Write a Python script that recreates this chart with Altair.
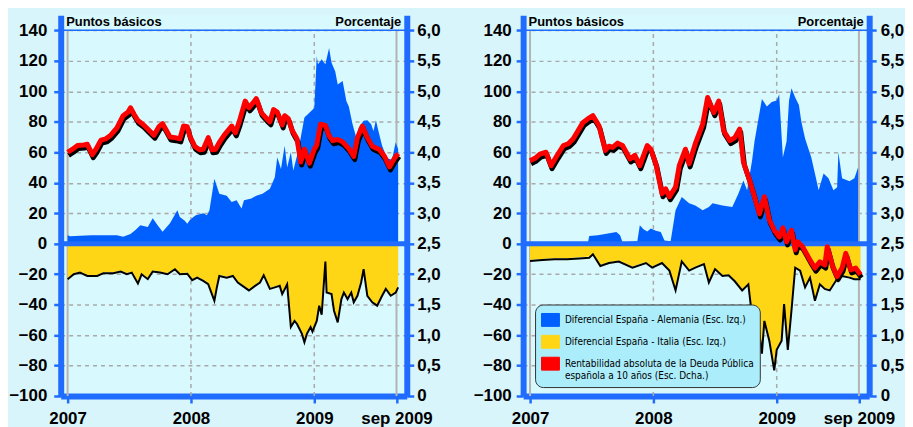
import altair as alt
import pandas as pd

# ---------------- data (decimal year, value) ----------------
SERIES = [
    "Diferencial España - Alemania (Esc. Izq.)",
    "Diferencial España - Italia (Esc. Izq.)",
    "Rentabilidad absoluta de la Deuda Pública española a 10 años (Esc. Dcha.)",
]

# Left panel
L_BLUE = [(2007.00, 5.6), (2007.02, 4.9), (2007.19, 5.6), (2007.40, 5.6), (2007.45, 4.6), (2007.51, 6.3),
          (2007.55, 9), (2007.59, 12), (2007.65, 11), (2007.69, 16.7), (2007.73, 12), (2007.77, 7.8),
          (2007.83, 13.4), (2007.89, 21.9), (2007.91, 17.5), (2007.95, 15), (2007.97, 13), (2007.99, 15.4),
          (2008.02, 17.5), (2008.04, 18.7), (2008.10, 20), (2008.13, 18.7), (2008.15, 21.9), (2008.19, 42.6),
          (2008.23, 32.8), (2008.29, 31.5), (2008.33, 27.3), (2008.37, 28.5), (2008.41, 23), (2008.43, 28.5),
          (2008.49, 29.6), (2008.53, 31.5), (2008.58, 32.8), (2008.64, 36), (2008.68, 43.6), (2008.70, 56.7),
          (2008.73, 49), (2008.76, 64.3), (2008.78, 50), (2008.81, 60), (2008.83, 48), (2008.87, 61),
          (2008.90, 74), (2008.92, 82.8), (2008.96, 86), (2009.00, 89), (2009.02, 123), (2009.03, 117.8),
          (2009.06, 121), (2009.09, 117.8), (2009.12, 128.4), (2009.14, 118.7), (2009.17, 113), (2009.19, 104.5),
          (2009.23, 106.7), (2009.26, 93.7), (2009.28, 90), (2009.31, 78.6), (2009.34, 69.7), (2009.36, 76),
          (2009.40, 80.6), (2009.43, 81), (2009.46, 78.6), (2009.48, 74), (2009.50, 81), (2009.52, 74),
          (2009.55, 64.3), (2009.59, 56), (2009.63, 55), (2009.66, 66.5), (2009.68, 62)]

L_YELLOW = [(2007.00, -22.6), (2007.05, -19.4), (2007.10, -18.3), (2007.16, -20.5), (2007.24, -20.5),
            (2007.29, -18.7), (2007.37, -18.7), (2007.43, -17.6), (2007.48, -19.4), (2007.52, -18.3),
            (2007.57, -25.5), (2007.60, -19.4), (2007.65, -22.6), (2007.69, -17.6), (2007.75, -18.3),
            (2007.81, -19.4), (2007.87, -16.1), (2007.91, -19.4), (2007.97, -19), (2008.01, -23.3),
            (2008.05, -21.6), (2008.10, -23.7), (2008.14, -25.9), (2008.17, -32.4), (2008.19, -36.8),
            (2008.21, -28), (2008.23, -20.5), (2008.29, -21.6), (2008.34, -20.5), (2008.38, -24.8),
            (2008.47, -30), (2008.52, -27), (2008.56, -24.8), (2008.59, -20), (2008.64, -29), (2008.68, -28),
            (2008.72, -27), (2008.74, -32.4), (2008.78, -26), (2008.81, -54), (2008.84, -50), (2008.86, -52),
            (2008.90, -58.5), (2008.92, -64), (2008.94, -58.5), (2008.97, -54), (2008.985, -57), (2009.02, -50),
            (2009.04, -40), (2009.06, -46), (2009.09, -11), (2009.10, -31.4), (2009.14, -32.4), (2009.16, -43.3),
            (2009.19, -51), (2009.22, -35.7), (2009.24, -31.4), (2009.27, -35.7), (2009.30, -31.4),
            (2009.32, -37.8), (2009.35, -33.5), (2009.38, -24.8), (2009.40, -16), (2009.43, -33.5),
            (2009.47, -37.8), (2009.51, -40), (2009.55, -33.5), (2009.58, -29), (2009.62, -33.5),
            (2009.66, -31.4), (2009.68, -28)]

L_RED = [(2007.00, 4.00), (2007.04, 4.05), (2007.08, 4.11), (2007.13, 4.12), (2007.16, 4.13), (2007.20, 3.96),
         (2007.23, 4.05), (2007.27, 4.20), (2007.31, 4.22), (2007.35, 4.28), (2007.40, 4.40), (2007.45, 4.60),
         (2007.49, 4.66), (2007.51, 4.73), (2007.54, 4.62), (2007.57, 4.52), (2007.61, 4.46), (2007.65, 4.38),
         (2007.70, 4.28), (2007.74, 4.42), (2007.77, 4.47), (2007.80, 4.36), (2007.83, 4.25), (2007.87, 4.24),
         (2007.91, 4.22), (2007.94, 4.43), (2007.97, 4.42), (2007.99, 4.27), (2008.03, 4.10), (2008.07, 4.04),
         (2008.10, 4.05), (2008.14, 4.24), (2008.17, 4.04), (2008.20, 4.05), (2008.23, 4.16), (2008.27, 4.28),
         (2008.31, 4.38), (2008.33, 4.43), (2008.36, 4.32), (2008.39, 4.49), (2008.44, 4.84), (2008.47, 4.73),
         (2008.50, 4.80), (2008.53, 4.88), (2008.57, 4.65), (2008.61, 4.56), (2008.64, 4.50), (2008.67, 4.70),
         (2008.70, 4.66), (2008.74, 4.45), (2008.76, 4.60), (2008.79, 4.55), (2008.82, 4.36), (2008.86, 4.22),
         (2008.89, 3.84), (2008.92, 4.05), (2008.96, 3.82), (2009.00, 4.05), (2009.02, 4.12), (2009.05, 4.46),
         (2009.09, 4.44), (2009.12, 4.27), (2009.15, 4.19), (2009.19, 4.21), (2009.23, 4.17), (2009.28, 4.06),
         (2009.32, 3.93), (2009.35, 4.24), (2009.39, 4.43), (2009.43, 4.24), (2009.47, 4.10), (2009.53, 4.04),
         (2009.57, 3.93), (2009.61, 3.76), (2009.65, 3.90), (2009.68, 3.98)]

# Right panel
R_BLUE = [(2007.00, 1), (2007.47, 1), (2007.48, 5), (2007.55, 5.5), (2007.62, 6.5), (2007.70, 7.6),
          (2007.73, 5.5), (2007.75, 1), (2007.87, 1.5), (2007.89, 12), (2007.92, 9.5), (2007.95, 8),
          (2007.98, 10), (2008.02, 8.5), (2008.06, 7.6), (2008.09, 2), (2008.14, 1.5), (2008.18, 22),
          (2008.23, 30.6), (2008.29, 26.5), (2008.34, 25), (2008.40, 22), (2008.45, 24), (2008.48, 26.5),
          (2008.56, 25), (2008.64, 24), (2008.69, 33), (2008.73, 41.5), (2008.76, 35), (2008.80, 54.5),
          (2008.82, 67), (2008.88, 95), (2008.92, 90), (2008.96, 93), (2009.00, 94), (2009.02, 98),
          (2009.05, 56.7), (2009.08, 67), (2009.10, 94), (2009.12, 102), (2009.15, 96), (2009.18, 91),
          (2009.20, 80), (2009.23, 69), (2009.28, 56.7), (2009.31, 46), (2009.34, 35), (2009.38, 46),
          (2009.42, 43), (2009.46, 35), (2009.49, 37), (2009.50, 60), (2009.53, 43), (2009.59, 41),
          (2009.63, 43), (2009.66, 50)]

R_YELLOW = [(2007.00, -10.7), (2007.10, -10), (2007.20, -9.5), (2007.30, -9.5), (2007.40, -9), (2007.48, -8.5),
            (2007.51, -6.3), (2007.57, -14), (2007.64, -12), (2007.72, -11), (2007.83, -15), (2007.94, -12),
            (2007.99, -15), (2008.07, -12), (2008.13, -17), (2008.18, -30), (2008.23, -11), (2008.29, -17),
            (2008.34, -15), (2008.41, -12.7), (2008.45, -24.8), (2008.50, -16), (2008.56, -20.5), (2008.61, -20),
            (2008.66, -24), (2008.72, -30), (2008.77, -26), (2008.79, -40), (2008.81, -60), (2008.84, -45),
            (2008.88, -71.5), (2008.90, -50), (2008.94, -63), (2008.98, -82.5), (2009.00, -69), (2009.04, -63),
            (2009.06, -39), (2009.09, -69), (2009.12, -43), (2009.15, -15), (2009.19, -17), (2009.23, -28),
            (2009.27, -21.6), (2009.31, -36.8), (2009.35, -26), (2009.39, -29), (2009.43, -30), (2009.48, -23.7),
            (2009.53, -20.5), (2009.59, -21.6), (2009.63, -22.6), (2009.68, -22.6)]

R_RED = [(2007.00, 3.86), (2007.04, 3.90), (2007.08, 3.97), (2007.13, 4.00), (2007.17, 3.78), (2007.22, 3.95),
         (2007.27, 4.11), (2007.31, 4.14), (2007.35, 4.22), (2007.43, 4.49), (2007.47, 4.55), (2007.51, 4.60),
         (2007.54, 4.50), (2007.56, 4.43), (2007.61, 4.03), (2007.64, 4.10), (2007.67, 4.08), (2007.71, 4.15),
         (2007.75, 4.11), (2007.81, 3.89), (2007.85, 3.95), (2007.89, 3.78), (2007.95, 4.11), (2007.98, 4.05),
         (2008.02, 3.81), (2008.07, 3.32), (2008.10, 3.40), (2008.13, 3.27), (2008.18, 3.43), (2008.21, 3.78),
         (2008.26, 4.05), (2008.29, 3.81), (2008.34, 4.14), (2008.40, 4.46), (2008.44, 4.90), (2008.49, 4.65),
         (2008.53, 4.84), (2008.57, 4.35), (2008.62, 4.19), (2008.66, 4.24), (2008.70, 4.38), (2008.73, 3.84),
         (2008.78, 3.54), (2008.82, 3.27), (2008.86, 2.99), (2008.90, 3.27), (2008.94, 2.89), (2008.98, 2.72),
         (2009.02, 2.61), (2009.05, 2.76), (2009.08, 2.53), (2009.12, 2.72), (2009.15, 2.40), (2009.17, 2.53),
         (2009.21, 2.45), (2009.27, 2.23), (2009.31, 2.10), (2009.35, 2.20), (2009.39, 2.15), (2009.41, 2.45),
         (2009.45, 2.15), (2009.49, 1.96), (2009.53, 2.10), (2009.56, 2.34), (2009.60, 2.07), (2009.64, 2.10),
         (2009.68, 1.99)]

LEFT_TICKS = [-100, -80, -60, -40, -20, 0, 20, 40, 60, 80, 100, 120, 140]
RIGHT_TICKS = [0, 0.5, 1.0, 1.5, 2.0, 2.5, 3.0, 3.5, 4.0, 4.5, 5.0, 5.5, 6.0]
X_TICKS = [2007, 2008, 2009, 2009 + 8 / 12]
DASHED_YEARS = [2008, 2009]
EDGE_YEARS = [2007, 2009 + 8 / 12]

BLUE = "#0060ff"
YELLOW = "#ffd615"
RED = "#ff0000"
BAR = "#1f6cff"
BG = "#d9f5fc"
VIEW_BG = "#d8f9fd"
GRID = "#a9a9a9"

FONT = "Liberation Sans"
LEG_FONT = "DejaVu Sans Condensed, Liberation Sans"


def df_of(pairs, col, serie=None):
    d = pd.DataFrame(pairs, columns=["t", col])
    if serie is not None:
        d["serie"] = serie
    return d


def panel(blue, yellow, red, left_pad, right_pad, legend, left_ext, right_ext):
    xs = alt.Scale(domain=[2006.944, 2009.75], nice=False, zero=False)
    xax = alt.Axis(values=X_TICKS, grid=False, title=None, labelFlush=False, labelOverlap=False,
                   labelPadding=8,
                   labelExpr="datum.value > 2009.5 ? 'sep 2009' : format(datum.value, 'd')")
    ysL = alt.Scale(domain=[-100, 150], nice=False, zero=False)
    yaxL = alt.Axis(values=LEFT_TICKS, grid=True, gridDash=[4, 4], gridColor=GRID, gridWidth=1.5,
                    orient="left", title="Puntos básicos", titleAngle=0, titleX=5, titleY=10,
                    titleAlign="left", titleBaseline="alphabetic", labelPadding=left_pad,
                    minExtent=left_ext, maxExtent=left_ext)
    ysR = alt.Scale(domain=[0, 6.25], nice=False, zero=False)
    yaxR = alt.Axis(values=RIGHT_TICKS, grid=False, orient="right", title="Porcentaje", titleAngle=0,
                    titleX=-6, titleY=10, titleAlign="right", titleBaseline="alphabetic",
                    labelPadding=right_pad, minExtent=right_ext, maxExtent=right_ext,
                    labelExpr="datum.value == 0 ? '0' : replace(format(datum.value, '.1f'), '.', ',')")

    col = alt.Color("serie:N", scale=alt.Scale(domain=SERIES, range=[BLUE, YELLOW, RED]),
                    legend=legend)

    def X(f):
        return alt.X(f + ":Q", scale=xs, axis=xax)

    def YL(f):
        return alt.Y(f + ":Q", scale=ysL, axis=yaxL)

    def YR(f):
        return alt.Y(f + ":Q", scale=ysR, axis=yaxR)

    dashed = alt.Chart(pd.DataFrame({"t": DASHED_YEARS, "lo": -100, "hi": 140})).mark_rule(
        color=GRID, strokeWidth=1.5, strokeDash=[4, 4]).encode(x=X("t"), y=YL("lo"), y2="hi")
    edges = alt.Chart(pd.DataFrame({"t": EDGE_YEARS, "lo": -100, "hi": 140})).mark_rule(
        color="#b4b4b4", strokeWidth=2).encode(x=X("t"), y=YL("lo"), y2="hi")
    blue_a = alt.Chart(df_of(blue, "v", SERIES[0])).mark_area(opacity=1).encode(
        x=X("t"), y=YL("v"), color=col)
    yel_a = alt.Chart(df_of(yellow, "v", SERIES[1])).mark_area(opacity=1).encode(
        x=X("t"), y=YL("v"), color=col)
    yel_l = alt.Chart(df_of(yellow, "v")).transform_calculate(vb="datum.v - 0.7").mark_line(
        color="black", strokeWidth=2).encode(x=X("t"), y=YL("vb"))
    zero = alt.Chart(pd.DataFrame({"v": [0]})).mark_rule(color=BAR, strokeWidth=5).encode(y=YL("v"))
    top = alt.Chart(pd.DataFrame({"v": [140]})).mark_rule(color=BAR, strokeWidth=1.5).encode(y=YL("v"))
    left_group = alt.layer(dashed, edges, blue_a, yel_a, yel_l, zero, top)

    red_df = df_of(red, "r", SERIES[2])
    shadow = alt.Chart(red_df).transform_calculate(
        ts="datum.t + 0.008", rs="datum.r - 0.05").mark_line(
        color="black", strokeWidth=5, strokeJoin="round").encode(x=X("ts"), y=YR("rs"))
    red_l = alt.Chart(red_df).mark_line(strokeWidth=5, strokeJoin="round", opacity=1).encode(
        x=X("t"), y=YR("r"), color=col)
    right_group = alt.layer(shadow, red_l)

    return alt.layer(left_group, right_group).resolve_scale(y="independent").properties(
        width=348, height=383)


C = SERIES[2]
legend = alt.Legend(
    title=None, orient="none", legendX=12, legendY=291, direction="vertical", columns=1,
    fillColor="#abedfb", strokeColor="#333333", padding=6, cornerRadius=8, zindex=1,
    labelFont=LEG_FONT, labelFontSize=10, labelFontWeight="normal", labelColor="black",
    labelLimit=400, labelOffset=5, rowPadding=4, symbolSize=324,
    symbolType="M-1,-0.72H1V0.72H-1Z", symbolStrokeColor="#1a1a1a", symbolStrokeWidth=1,
    symbolOpacity=1,
    labelExpr=f"datum.value == '{C}' ? ['Rentabilidad absoluta de la Deuda Pública', "
              f"'española a 10 años (Esc. Dcha.)'] : datum.label",
)

p1 = panel(L_BLUE, L_YELLOW, L_RED, 7, 3, None, 52, 50)
p2 = panel(R_BLUE, R_YELLOW, R_RED, 5, 4, legend, 50, 36)

chart = alt.hconcat(p1, p2, spacing=16).resolve_scale(color="independent").configure(
    background=BG, padding={"left": 0, "top": 6, "right": 0, "bottom": 0}, font=FONT
).configure_view(fill=VIEW_BG, stroke=None).configure_axis(
    labelFont=FONT, labelFontSize=17, labelFontWeight="bold", labelColor="black",
    domainColor=BAR, domainWidth=6, tickColor=BAR, tickWidth=2.5, tickSize=7,
    titleFont=FONT, titleFontSize=13, titleFontWeight="bold", titleColor="black", titlePadding=0,
)

chart.save("out.html", embed_options={"renderer": "svg", "actions": False})
